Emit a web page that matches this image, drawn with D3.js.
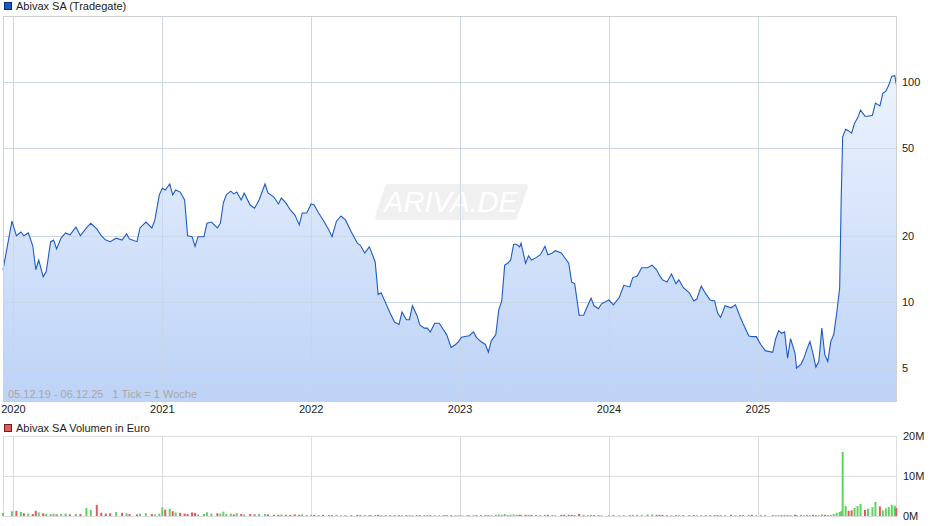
<!DOCTYPE html>
<html><head><meta charset="utf-8">
<script src="https://cdn.jsdelivr.net/npm/d3@7"></script>
<style>body{margin:0;background:#fff}svg{display:block;font-family:"Liberation Sans",Arial,sans-serif}</style>
</head><body><svg id="c" width="940" height="526"></svg>
<script>
// time in fractional years
const times = [
2019.93,2019.99,2020.02,2020.05,2020.07,2020.10,2020.13,2020.15,2020.17,2020.20,2020.22,2020.25,2020.27,2020.29,2020.32,2020.35,2020.38,2020.42,2020.45,2020.49,2020.52,2020.56,2020.59,2020.62,2020.65,2020.69,2020.73,2020.76,2020.78,2020.83,2020.85,2020.89,2020.93,2020.95,2020.98,
2021.00,2021.02,2021.05,2021.07,2021.09,2021.12,2021.15,2021.17,2021.20,2021.22,2021.24,2021.28,2021.30,2021.33,2021.37,2021.39,2021.41,2021.43,2021.46,2021.48,2021.50,2021.53,2021.55,2021.59,2021.62,2021.65,2021.69,2021.71,2021.75,2021.78,2021.80,2021.83,2021.86,2021.89,2021.92,2021.94,2021.97,
2022.00,2022.02,2022.05,2022.08,2022.12,2022.14,2022.17,2022.20,2022.23,2022.27,2022.31,2022.33,2022.36,2022.39,2022.40,2022.43,2022.45,2022.47,2022.50,2022.53,2022.56,2022.59,2022.61,2022.64,2022.66,2022.68,2022.71,2022.73,2022.76,2022.78,2022.80,2022.83,2022.86,2022.89,2022.91,2022.94,2022.97,2022.99,
2023.01,2023.05,2023.06,2023.09,2023.11,2023.14,2023.17,2023.19,2023.21,2023.24,2023.26,2023.28,2023.30,2023.32,2023.34,2023.36,2023.38,2023.40,2023.41,2023.44,2023.46,2023.48,2023.51,2023.54,2023.57,2023.59,2023.62,2023.64,2023.68,2023.70,2023.73,2023.75,2023.77,2023.80,2023.83,2023.86,2023.88,2023.90,2023.93,2023.95,
2024.00,2024.03,2024.07,2024.10,2024.14,2024.16,2024.19,2024.22,2024.26,2024.29,2024.32,2024.34,2024.36,2024.39,2024.42,2024.45,2024.47,2024.50,2024.54,2024.57,2024.59,2024.62,2024.65,2024.68,2024.71,2024.73,2024.75,2024.78,2024.82,2024.85,2024.88,2024.90,2024.94,2024.96,2024.99,
2025.02,2025.05,2025.10,2025.12,2025.14,2025.16,2025.18,2025.20,2025.22,2025.25,2025.26,2025.29,2025.31,2025.33,2025.35,2025.37,2025.39,2025.41,2025.43,2025.45,2025.47,2025.49,2025.51,2025.53,2025.55,2025.56,2025.57,2025.59,2025.61,2025.63,2025.65,2025.67,2025.69,2025.72,2025.74,2025.77,2025.79,2025.82,2025.84,2025.86,2025.88,2025.90,2025.92,2025.93
];
const prices = [
14.0,23.3,20.0,20.8,20.0,20.6,18.0,14.0,15.5,13.0,13.7,18.8,19.1,17.4,19.5,20.6,20.2,21.9,20.0,21.7,22.8,21.5,20.0,19.1,18.8,19.5,19.1,20.4,19.3,18.8,21.7,23.1,21.7,23.6,30.7,
32.9,32.3,34.4,30.7,32.3,31.6,29.1,20.0,19.8,17.9,19.8,19.8,22.8,23.1,21.7,22.8,28.2,30.7,31.9,31.0,31.6,29.1,31.3,27.6,26.7,29.1,34.4,31.3,30.0,27.9,29.7,28.2,26.2,24.9,22.4,25.4,25.4,
27.9,27.6,25.4,23.6,21.2,19.8,23.3,24.6,23.6,20.8,18.5,18.1,16.7,17.8,17.2,15.2,10.8,11.0,9.9,8.9,8.1,7.9,9.0,8.3,8.3,9.6,8.7,7.85,7.6,7.6,7.3,8.0,8.0,7.45,7.1,6.2,6.4,6.6,
6.9,7.0,7.0,7.3,6.9,6.6,6.4,5.9,6.65,7.1,9.2,10.1,14.7,15.0,15.5,18.3,18.3,17.8,18.5,15.0,16.2,15.5,15.9,16.4,17.9,16.4,16.7,17.1,16.7,16.0,15.0,12.3,12.1,8.7,8.7,9.7,10.4,9.6,9.3,9.8,
10.2,9.7,10.5,11.9,11.7,12.9,13.1,14.3,14.3,14.7,14.0,13.2,12.6,12.3,13.4,12.1,12.6,11.6,11.0,10.1,10.3,11.8,10.9,10.2,10.1,8.9,8.5,9.6,9.4,9.7,8.6,8.0,7.0,6.95,6.95,
6.4,6.0,5.9,6.8,7.4,7.2,7.3,5.55,6.8,5.85,5.0,5.2,5.55,6.1,6.6,5.85,5.05,5.35,7.6,5.75,5.35,6.6,7.1,8.9,11.6,29.1,56.2,61.0,60.0,58.6,65.0,68.6,74.6,70.0,70.0,70.7,80.3,78.0,89.0,91.0,97.0,106.5,107.0,97.8
];
// weekly turnover in million euro
const volumes = [
0.8,1.2,1.3,1.0,0.7,0.6,0.5,1.3,0.9,0.7,0.5,0.5,0.6,0.4,0.5,0.6,0.4,0.5,0.5,2.0,1.5,2.8,0.8,0.6,0.7,1.0,0.8,0.7,0.5,0.4,0.6,0.7,0.5,0.4,0.6,
2.2,1.6,1.8,1.2,0.9,0.8,0.6,0.5,0.9,0.8,0.4,0.5,0.9,0.6,0.7,0.6,1.1,0.5,0.6,0.4,0.7,0.5,0.4,0.5,0.4,0.5,0.5,0.4,0.3,0.3,0.4,0.3,0.3,0.4,0.3,0.4,0.3,
0.3,0.3,0.2,0.3,0.2,0.2,0.3,0.2,0.2,0.2, 0.3,0.2,0.2,0.2,0.2,0.2,0.3,0.2,0.2,0.2, 0.2,0.2,0.2,0.2,0.2,0.2,0.2,0.2,0.2,0.2, 0.2,0.2,0.2,0.2,0.2,0.2,0.2,0.2,
0.2,0.2,0.2,0.2,0.2,0.2,0.2,0.2,0.2,0.3, 0.4,0.3,0.5,0.3,0.3,0.4,0.3,0.3,0.3,0.3, 0.3,0.3,0.3,0.2,0.3,0.3,0.3,0.2,0.3,0.3, 0.3,0.3,0.2,0.5,0.3,0.2,0.3,0.2,0.2,0.2,
0.2,0.2,0.2,0.2,0.2,0.3,0.3,0.3,0.4,0.4, 0.3,0.3,0.3,0.2,0.2,0.2,0.2,0.2,0.2,0.2, 0.2,0.2,0.2,0.2,0.2,0.2,0.2,0.2,0.3,0.2, 0.2,0.2,0.2,0.3,0.2,
0.2,0.2,0.2,0.2,0.2,0.2,0.3,0.2,0.2,0.3, 0.2,0.3,0.2,0.3,0.2,0.3,0.2,0.2,0.4,0.3, 0.2,0.3,0.5,0.8,1.0,1.2,16.0,2.5,1.3,1.4, 2.0,2.5,3.0,1.5,1.8,2.2,3.5,2.4,1.4,1.9, 2.2,2.8,2.6,2.0
];
const priceTicks = [5,10,20,50,100];
const volTicks = [0,10,20];
const volTickLabels = ["0M","10M","20M"];
const years = [2020,2021,2022,2023,2024,2025];

const svg = d3.select("#c");
const L=3,R=897,T=16,B=401, VT=436, VB=516;
const x = d3.scaleLinear().domain([2019.93,2025.935]).range([L,R]);
const y = d3.scaleLog().domain([3.54,200]).range([B,T]);
const yv = d3.scaleLinear().domain([0,20]).range([VB,VT]);

const defs = svg.append("defs");
const g = defs.append("linearGradient").attr("id","fg").attr("x1",0).attr("x2",0)
  .attr("gradientUnits","userSpaceOnUse").attr("y1",T).attr("y2",B);
g.append("stop").attr("offset",0).attr("stop-color","#f4f8ff");
g.append("stop").attr("offset",1).attr("stop-color","#b9d0f6");

// legend
svg.append("rect").attr("x",4.5).attr("y",2.5).attr("width",7).attr("height",7).attr("fill","#1d57c1").attr("stroke","#0b2a66");
svg.append("text").attr("x",16).attr("y",10).attr("font-size",11).attr("fill","#222").text("Abivax SA (Tradegate)");
svg.append("rect").attr("x",4.5).attr("y",424.5).attr("width",7).attr("height",7).attr("fill","#e05c5c").attr("stroke","#6b1c1c");
svg.append("text").attr("x",16).attr("y",432).attr("font-size",11).attr("fill","#222").text("Abivax SA Volumen in Euro");

// grid main
const gridC="#dcdcdc";
svg.append("g").selectAll("line").data(priceTicks).join("line")
  .attr("x1",L).attr("x2",R).attr("y1",d=>Math.round(y(d))+0.5).attr("y2",d=>Math.round(y(d))+0.5).attr("stroke",gridC);
const yr = d=>Math.round(x(d))+0.5;
svg.append("g").selectAll("line").data(years).join("line")
  .attr("x1",yr).attr("x2",yr).attr("y1",T).attr("y2",B).attr("stroke",gridC);

// watermark
const wm = svg.append("g").attr("opacity",0.9);
wm.append("path").attr("d","M388,187 L525,187 L514,217 L378,217 Z").attr("fill","#efefef").attr("stroke","#efefef").attr("stroke-width",6).attr("stroke-linejoin","round");
wm.append("text").attr("x",451).attr("y",212).attr("text-anchor","middle").attr("font-size",29).attr("font-style","italic").attr("fill","#fff").text("ARIVA.DE");

const pts = times.map((t,i)=>[t,prices[i]]);
svg.append("path").datum(pts).attr("fill","url(#fg)").attr("fill-opacity",0.95)
  .attr("d",d3.area().x(d=>x(d[0])).y0(B).y1(d=>y(d[1])));
svg.append("g").selectAll("line").data(priceTicks).join("line")
  .attr("x1",L).attr("x2",R).attr("y1",d=>Math.round(y(d))+0.5).attr("y2",d=>Math.round(y(d))+0.5).attr("stroke","#c8d4e8").attr("stroke-opacity",0.8);
svg.append("g").selectAll("line").data(years).join("line")
  .attr("x1",yr).attr("x2",yr).attr("y1",T).attr("y2",B).attr("stroke","#c8d4e8").attr("stroke-opacity",0.8);
svg.append("path").datum(pts).attr("fill","none").attr("stroke","#1f5bc4").attr("stroke-width",1.1)
  .attr("d",d3.line().x(d=>x(d[0])).y(d=>y(d[1])));

svg.append("rect").attr("x",L+0.5).attr("y",T+0.5).attr("width",R-L-1).attr("height",B-T).attr("fill","none").attr("stroke","#d0d0d0");

svg.append("text").attr("x",8).attr("y",398).attr("font-size",11).attr("fill","#a8a8a8").attr("xml:space","preserve")
  .text("05.12.19 - 06.12.25   1 Tick = 1 Woche");

svg.append("g").selectAll("text").data(priceTicks).join("text")
  .attr("x",902).attr("y",d=>y(d)+4).attr("font-size",11).attr("fill","#222").text(d=>d);
svg.append("g").selectAll("text").data(years).join("text")
  .attr("x",d=>x(d)).attr("y",413).attr("text-anchor","middle").attr("font-size",11).attr("fill","#222").text(d=>d);

// volume panel
svg.append("g").selectAll("line").data(volTicks).join("line")
  .attr("x1",L).attr("x2",R).attr("y1",d=>Math.round(yv(d))+0.5).attr("y2",d=>Math.round(yv(d))+0.5).attr("stroke",gridC);
svg.append("g").selectAll("line").data(years).join("line")
  .attr("x1",yr).attr("x2",yr).attr("y1",VT).attr("y2",VB).attr("stroke",gridC);
svg.append("line").attr("x1",L+0.5).attr("x2",L+0.5).attr("y1",VT).attr("y2",VB).attr("stroke",gridC);
svg.append("line").attr("x1",R-0.5).attr("x2",R-0.5).attr("y1",VT).attr("y2",VB).attr("stroke",gridC);
const n=Math.min(times.length,volumes.length);
const vd=d3.range(n).map(i=>({t:times[i],v:volumes[i],up:i===0||prices[i]>=prices[i-1]}));
svg.append("g").selectAll("rect").data(vd).join("rect")
  .attr("x",d=>x(d.t)-1).attr("width",2).attr("y",d=>yv(d.v)).attr("height",d=>VB-yv(d.v))
  .attr("fill",d=>d.up?"#5fd35f":"#e05a5a");
svg.append("g").selectAll("text").data(volTicks).join("text")
  .attr("x",903).attr("y",d=>yv(d)+4).attr("font-size",11).attr("fill","#222").text((d,i)=>volTickLabels[i]);
</script></body></html>
